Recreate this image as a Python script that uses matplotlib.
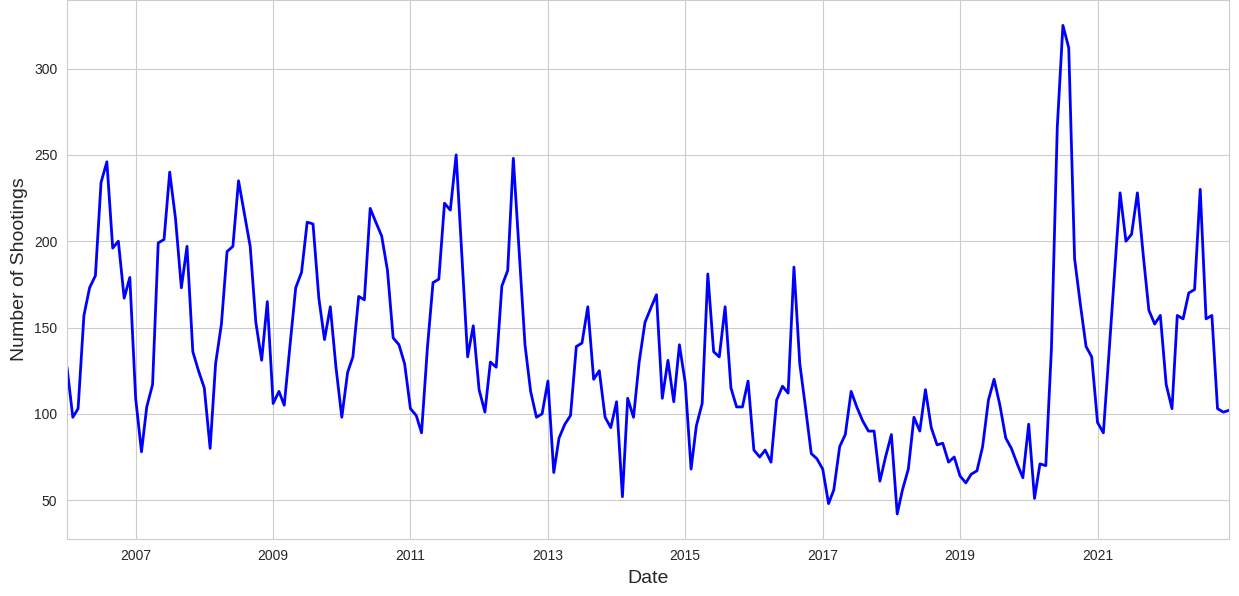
import matplotlib
matplotlib.use("Agg")
import matplotlib.pyplot as plt
import matplotlib.dates as mdates
import pandas as pd
import seaborn as sns

y2006 = [127, 98, 103, 157, 173, 180, 234, 246, 196, 200, 167, 179]
y2007 = [109, 78, 104, 117, 199, 201, 240, 213, 173, 197, 136, 125]
y2008 = [115, 80, 129, 152, 194, 197, 235, 216, 197, 153, 131, 165]
y2009 = [106, 113, 105, 140, 173, 182, 211, 210, 167, 143, 162, 127]
y2010 = [98, 124, 133, 168, 166, 219, 211, 203, 183, 144, 140, 129]
y2011 = [103, 99, 89, 138, 176, 178, 222, 218, 250, 192, 133, 151]
y2012 = [114, 101, 130, 127, 174, 183, 248, 194, 140, 113, 98, 100]
y2013 = [119, 66, 86, 94, 99, 139, 141, 162, 120, 125, 98, 92]
y2014 = [107, 52, 109, 98, 130, 153, 161, 169, 109, 131, 107, 140]
y2015 = [118, 68, 93, 106, 181, 136, 133, 162, 115, 104, 104, 119]
y2016 = [79, 75, 79, 72, 108, 116, 112, 185, 129, 104, 77, 74]
y2017 = [68, 48, 56, 81, 88, 113, 104, 96, 90, 90, 61, 75]
y2018 = [88, 42, 56, 68, 98, 90, 114, 92, 82, 83, 72, 75]
y2019 = [64, 60, 65, 67, 81, 108, 120, 105, 86, 80, 71, 63]
y2020 = [94, 51, 71, 70, 138, 266, 325, 312, 190, 164, 139, 133]
y2021 = [95, 89, 132, 181, 228, 200, 204, 228, 192, 160, 152, 157]
y2022 = [117, 103, 157, 155, 170, 172, 230, 155, 157, 103, 101, 102]

tick_years = [2007, 2009, 2011, 2013, 2015, 2017, 2019, 2021]

shootings = (y2006 + y2007 + y2008 + y2009 + y2010 + y2011 + y2012 + y2013 +
             y2014 + y2015 + y2016 + y2017 + y2018 + y2019 + y2020 + y2021 + y2022)
dates = pd.date_range("2006-01-01", periods=len(shootings), freq="MS")

sns.set_style("whitegrid")
plt.rcParams['font.family'] = ['Liberation Sans', 'DejaVu Sans']

fig = plt.figure(figsize=(12.39, 5.96), dpi=100)
ax = fig.add_axes([67/1239, 57/596, 1162/1239, 539/596])
ax.plot(dates, shootings, color="blue", linewidth=2)
ax.set_xlim(dates[0], dates[-1])
ax.set_ylim(27.5, 339.7)
ax.set_yticks([50, 100, 150, 200, 250, 300])
ax.set_xticks([pd.Timestamp(f"{y}-01-01") for y in tick_years])
ax.xaxis.set_major_formatter(mdates.DateFormatter("%Y"))
ax.tick_params(labelsize=10)
ax.set_xlabel("Date", fontsize=14, labelpad=5)
ax.set_ylabel("Number of Shootings", fontsize=14)
fig.savefig("out.png", dpi=100)
